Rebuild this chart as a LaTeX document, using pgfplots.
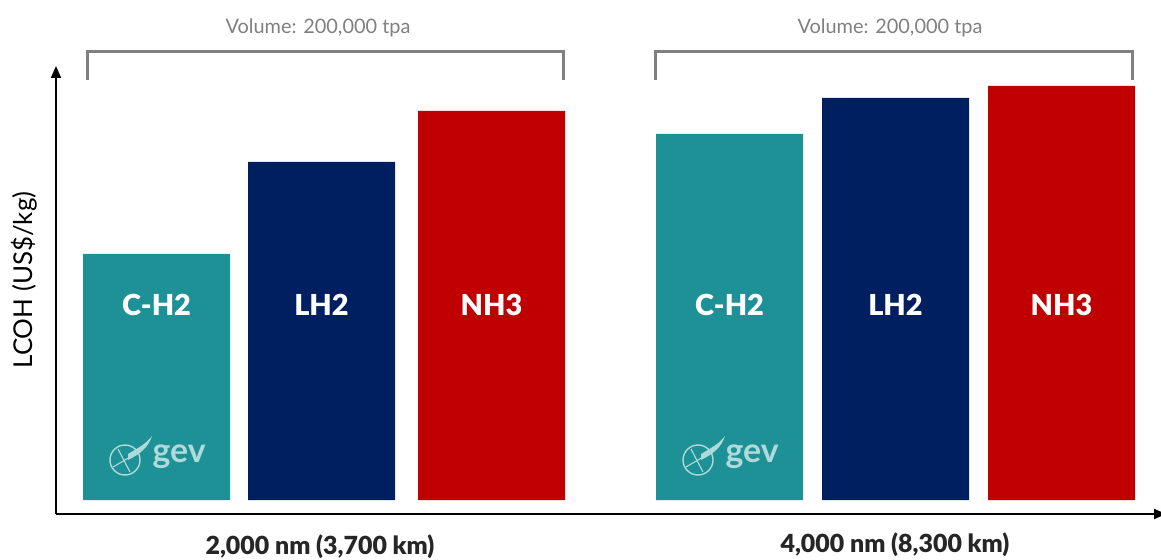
\documentclass[border=0pt]{standalone}
\usepackage{pgfplots}
\pgfplotsset{compat=1.18}
\usepackage{fontspec}
\setmainfont{Lato}
\newfontfamily\heavy{Lato Black}
\usetikzlibrary{arrows.meta}
\definecolor{cteal}{RGB}{30,145,150}
\definecolor{cnavy}{RGB}{0,31,96}
\definecolor{cred}{RGB}{192,0,0}
\definecolor{cgray}{RGB}{128,128,128}
\definecolor{clogo}{RGB}{175,218,218}
\tikzset{
  lbl/.style={white, font=\heavy\fontsize{29}{32}\selectfont},
  logo/.style={clogo, font=\bfseries\fontsize{34}{37}\selectfont, anchor=west},
  vol/.style={cgray, font=\fontsize{20}{23}\selectfont},
  xl/.style={font=\heavy\fontsize{25}{28}\selectfont, text=black!85},
}
\begin{document}
\begin{tikzpicture}
\begin{axis}[
  name=ax,
  width=1161bp, height=559bp, scale only axis,
  xmin=0, xmax=1161, ymin=-0.59, ymax=5.00,
  axis lines=none, clip=false,
  every axis plot/.append style={ybar, bar width=147, bar shift=0pt, draw=none},
]
\addplot[fill=cteal] coordinates {(156.5,2.46) (729.5,3.66)};
\addplot[fill=cnavy] coordinates {(321.5,3.38) (895.5,4.02)};
\addplot[fill=cred]  coordinates {(491.5,3.89) (1061.5,4.14)};
% axes
\draw[line width=2bp, -{Triangle[length=12bp,width=10bp]}] (axis cs:56,-0.14) -- (axis cs:56,4.34);
\draw[line width=2bp, -{Triangle[length=12bp,width=10bp]}] (axis cs:56,-0.14) -- (axis cs:1166,-0.14);
% brackets
\draw[cgray, line width=3bp] (axis cs:87,4.20) -- (axis cs:87,4.48) -- (axis cs:563,4.48) -- (axis cs:563,4.20);
\draw[cgray, line width=3bp] (axis cs:655,4.20) -- (axis cs:655,4.48) -- (axis cs:1132,4.48) -- (axis cs:1132,4.20);
\node[vol] at (axis cs:318,4.72) {Volume: 200,000 tpa};
\node[vol] at (axis cs:890,4.72) {Volume: 200,000 tpa};
% bar labels
\node[lbl] at (axis cs:156.5,1.95) {C-H2};
\node[lbl] at (axis cs:321.5,1.95) {LH2};
\node[lbl] at (axis cs:491.5,1.95) {NH3};
\node[lbl] at (axis cs:729.5,1.95) {C-H2};
\node[lbl] at (axis cs:895.5,1.95) {LH2};
\node[lbl] at (axis cs:1061.5,1.95) {NH3};
% logos
\draw[clogo, line width=1.4bp] (axis cs:125,0.40) circle[radius=15bp];
\draw[clogo, line width=1.1bp] (axis cs:113,0.33) -- (axis cs:137,0.47) (axis cs:118,0.51) -- (axis cs:130,0.28);
\fill[clogo] (axis cs:128,0.46) .. controls (axis cs:138,0.52) and (axis cs:146,0.56) .. (axis cs:152,0.64) .. controls (axis cs:148,0.52) and (axis cs:140,0.46) .. (axis cs:128,0.40) -- cycle;
\node[logo] at (axis cs:149,0.43) {gev};
\draw[clogo, line width=1.4bp] (axis cs:698,0.40) circle[radius=15bp];
\draw[clogo, line width=1.1bp] (axis cs:686,0.33) -- (axis cs:710,0.47) (axis cs:691,0.51) -- (axis cs:703,0.28);
\fill[clogo] (axis cs:701,0.46) .. controls (axis cs:711,0.52) and (axis cs:719,0.56) .. (axis cs:725,0.64) .. controls (axis cs:721,0.52) and (axis cs:713,0.46) .. (axis cs:701,0.40) -- cycle;
\node[logo] at (axis cs:722,0.43) {gev};
% x labels
\node[xl] at (axis cs:320,-0.47) {2,000 nm (3,700 km)};
\node[xl] at (axis cs:895,-0.45) {4,000 nm (8,300 km)};
% y label
\node[rotate=90, font=\fontsize{26}{29}\selectfont] at (axis cs:24,2.20) {LCOH (US\$/kg)};
\end{axis}
\pgfresetboundingbox
\path (ax.south west) rectangle (ax.north east);
\end{tikzpicture}
\end{document}
